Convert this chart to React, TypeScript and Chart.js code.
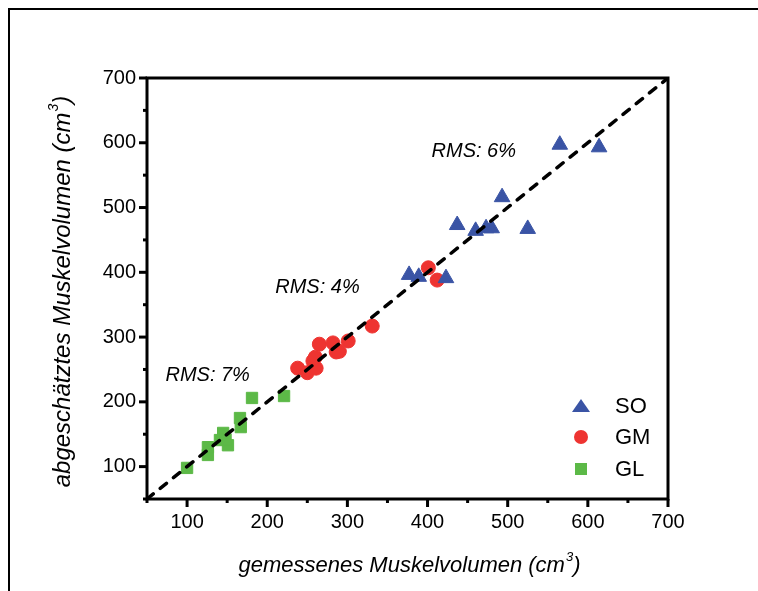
import React, { useEffect, useRef } from 'react';
import { Chart, registerables } from 'chart.js';

Chart.register(...registerables);

// ---- data ----
const soX = [377, 389, 423, 437, 460, 473, 480, 493, 525, 565, 614];
const soY = [396, 393, 391, 473, 464, 468, 468, 516, 467, 597, 593];

const gmX = [238, 250, 261, 257, 260, 265, 282, 286, 290, 301, 331, 401, 412];
const gmY = [252, 245, 252, 263, 269, 289, 291, 277, 278, 294, 317, 407, 388];

const glX = [100, 126, 126, 141, 145, 151, 148, 166, 167, 181, 221];
const glY = [98, 118, 130, 141, 152, 133, 142, 175, 161, 206, 209];

const identityLine = [50, 700];

const axisMin = 50;
const axisMax = 700;
const majorTicks = [100, 200, 300, 400, 500, 600, 700];
const minorTicks = [50, 150, 250, 350, 450, 550, 650];

const seriesNames = ['SO', 'GM', 'GL'];
const seriesColors = ['#3a54a5', '#ee3431', '#5cb947'];

const rmsLabels = ['RMS: 6%', 'RMS: 4%', 'RMS: 7%'];
const rmsAnchorX = [405, 210, 73];
const rmsAnchorY = [578, 368, 232];

const xTitle = 'gemessenes Muskelvolumen (cm';
const yTitle = 'abgeschätztes Muskelvolumen (cm';
const superscript = '3';

const FONT = "'Liberation Sans', Arial, Helvetica, sans-serif";

function toPoints(xs: number[], ys: number[]) {
  return xs.map((x, i) => ({ x, y: ys[i] }));
}

function drawTitleWithSup(ctx: CanvasRenderingContext2D, main: string, size: number) {
  ctx.font = `italic ${size}px ${FONT}`;
  const wMain = ctx.measureText(main).width;
  ctx.font = `italic ${Math.round(size * 0.6)}px ${FONT}`;
  const wSup = ctx.measureText(superscript).width;
  ctx.font = `italic ${size}px ${FONT}`;
  const wClose = ctx.measureText(')').width;
  const total = wMain + wSup + 1 + wClose;
  let x = -total / 2;
  ctx.textAlign = 'left';
  ctx.textBaseline = 'alphabetic';
  ctx.fillText(main, x, 0);
  x += wMain;
  ctx.font = `italic ${Math.round(size * 0.6)}px ${FONT}`;
  ctx.fillText(superscript, x + 1, -size * 0.5);
  x += wSup + 1;
  ctx.font = `italic ${size}px ${FONT}`;
  ctx.fillText(')', x, 0);
}

const decorPlugin = {
  id: 'decor',
  afterDraw(chart: any) {
    const ctx: CanvasRenderingContext2D = chart.ctx;
    const { left, right, top, bottom } = chart.chartArea;
    const xs = chart.scales.x;
    const ys = chart.scales.y;
    ctx.save();
    ctx.fillStyle = '#000';
    ctx.strokeStyle = '#000';

    // outer frame
    ctx.lineWidth = 2;
    ctx.strokeRect(9, 9, 900, 800);

    // plot box
    ctx.lineWidth = 3;
    ctx.strokeRect(left, top, right - left, bottom - top);

    // ticks
    ctx.lineWidth = 3;
    ctx.lineCap = 'butt';
    const tick = (v: number, len: number) => {
      const px = xs.getPixelForValue(v);
      ctx.beginPath();
      ctx.moveTo(px, bottom);
      ctx.lineTo(px, bottom + len);
      ctx.stroke();
      const py = ys.getPixelForValue(v);
      ctx.beginPath();
      ctx.moveTo(left, py);
      ctx.lineTo(left - len, py);
      ctx.stroke();
    };
    majorTicks.forEach((v) => tick(v, 8));
    minorTicks.forEach((v) => tick(v, 4));

    // axis titles
    ctx.save();
    ctx.translate((left + right) / 2 + 2, 572);
    drawTitleWithSup(ctx, xTitle, 22);
    ctx.restore();

    ctx.save();
    ctx.translate(70, (top + bottom) / 2 + 3);
    ctx.rotate(-Math.PI / 2);
    drawTitleWithSup(ctx, yTitle, 24);
    ctx.restore();

    // RMS annotations
    ctx.font = `italic 20px ${FONT}`;
    ctx.textAlign = 'left';
    ctx.textBaseline = 'alphabetic';
    rmsLabels.forEach((t, i) => {
      ctx.fillText(t, xs.getPixelForValue(rmsAnchorX[i]), ys.getPixelForValue(rmsAnchorY[i]));
    });

    // legend
    const lx = right - 87;
    const rows = [bottom - 93, bottom - 62, bottom - 30];
    seriesNames.forEach((name, i) => {
      const cy = rows[i];
      ctx.fillStyle = seriesColors[i];
      ctx.beginPath();
      if (i === 0) {
        ctx.moveTo(lx, cy - 7);
        ctx.lineTo(lx + 9, cy + 6);
        ctx.lineTo(lx - 9, cy + 6);
        ctx.closePath();
      } else if (i === 1) {
        ctx.arc(lx, cy, 7, 0, Math.PI * 2);
      } else {
        ctx.rect(lx - 6, cy - 6, 12, 12);
      }
      ctx.fill();
      ctx.fillStyle = '#000';
      ctx.font = `22px ${FONT}`;
      ctx.textBaseline = 'middle';
      ctx.fillText(name, lx + 34, cy + 1);
    });
    ctx.restore();
  },
};

export default function App() {
  const ref = useRef<HTMLCanvasElement>(null);
  useEffect(() => {
    if (!ref.current) return;
    const chart = new Chart(ref.current, {
      type: 'scatter',
      data: {
        datasets: [
          {
            type: 'line',
            label: 'y = x',
            data: toPoints(identityLine, identityLine),
            borderColor: '#000',
            borderWidth: 3.5,
            borderDash: [8, 9],
            borderCapStyle: 'round',
            pointRadius: 0,
            fill: false,
            order: 0,
          } as any,
          {
            label: seriesNames[0],
            data: toPoints(soX, soY),
            pointStyle: 'triangle',
            pointRadius: 9,
            backgroundColor: seriesColors[0],
            borderColor: seriesColors[0],
            borderWidth: 1,
            order: 1,
          },
          {
            label: seriesNames[1],
            data: toPoints(gmX, gmY),
            pointStyle: 'circle',
            pointRadius: 7,
            backgroundColor: seriesColors[1],
            borderColor: seriesColors[1],
            borderWidth: 1,
            order: 1,
          },
          {
            label: seriesNames[2],
            data: toPoints(glX, glY),
            pointStyle: 'rect',
            pointRadius: 8,
            backgroundColor: seriesColors[2],
            borderColor: seriesColors[2],
            borderWidth: 1,
            order: 1,
          },
        ],
      },
      options: {
        animation: false,
        responsive: false,
        events: [],
        layout: { padding: { left: 0, top: 78, right: 90, bottom: 0 } },
        plugins: {
          legend: { display: false },
          tooltip: { enabled: false },
        },
        scales: {
          x: {
            type: 'linear',
            min: axisMin,
            max: axisMax,
            grid: { display: false, drawTicks: false },
            border: { display: false },
            ticks: {
              color: '#000',
              font: { family: FONT, size: 20 },
              padding: 11,
              maxRotation: 0,
            },
            afterBuildTicks: (scale: any) => {
              scale.ticks = majorTicks.map((v) => ({ value: v }));
            },
            afterFit: (scale: any) => {
              scale.height = 92;
            },
          },
          y: {
            type: 'linear',
            min: axisMin,
            max: axisMax,
            grid: { display: false, drawTicks: false },
            border: { display: false },
            ticks: {
              color: '#000',
              font: { family: FONT, size: 20 },
              padding: 11,
            },
            afterBuildTicks: (scale: any) => {
              scale.ticks = majorTicks.map((v) => ({ value: v }));
            },
            afterFit: (scale: any) => {
              scale.width = 147;
            },
          },
        },
      },
      plugins: [decorPlugin],
    });
    return () => chart.destroy();
  }, []);

  return (
    <div style={{ position: 'fixed', left: 0, top: 0, width: 758, height: 591, background: '#fff' }}>
      <canvas ref={ref} width={758} height={591} style={{ display: 'block' }} />
    </div>
  );
}
